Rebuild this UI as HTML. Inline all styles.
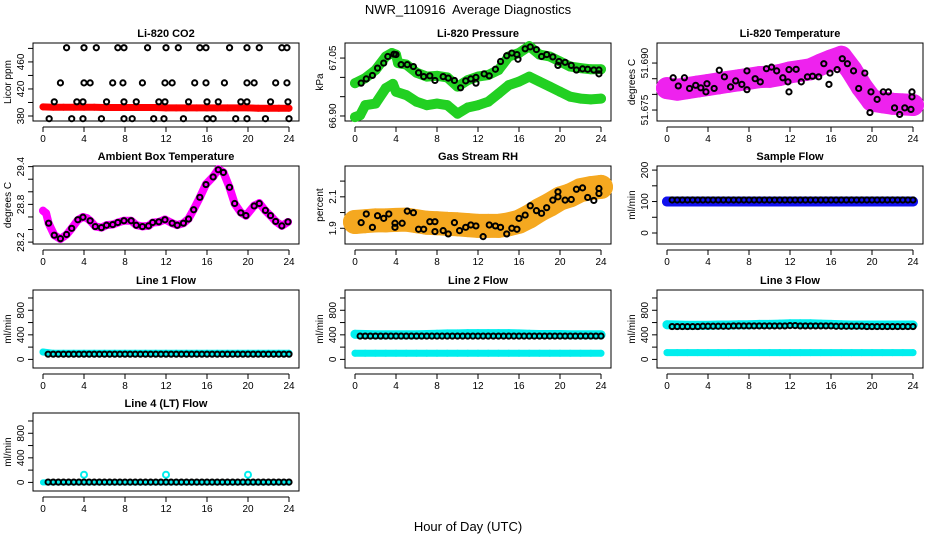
<!DOCTYPE html>
<html><head><meta charset="utf-8"><style>
html,body{margin:0;padding:0;background:#fff;}
svg{display:block;font-family:"Liberation Sans",sans-serif;}
</style></head><body>
<svg id="chart" width="936" height="540" viewBox="0 0 936 540" xmlns="http://www.w3.org/2000/svg">
<text x="468" y="14" text-anchor="middle" font-size="13">NWR_110916&#160; Average Diagnostics</text>
<text x="468" y="531" text-anchor="middle" font-size="13">Hour of Day (UTC)</text>
</svg>
<script>
const xTicks = [0,4,8,12,16,20,24];
// CO2
const co2Hours = [2.3,4.0,5.2,7.3,7.9,10.2,12.0,13.2,15.3,15.9,18.2,19.9,21.1,23.3,23.8, 1.7,4.0,4.6,6.8,7.8,9.7,11.9,12.6,14.8,15.9,17.7,19.9,20.6,22.7,23.8, 1.1,3.3,3.9,6.2,7.9,9.1,11.3,11.9,14.2,16.0,17.1,19.3,19.9,22.2,23.9, 0.6,2.8,3.9,5.7,7.9,8.7,10.8,11.8,13.7,16.0,16.6,18.8,19.9,21.7,24.0];
const co2Values = [481,481,481,481,481,481,481,481,481,481,481,481,481,481,481, 429,429,429,429,429,429,429,429,429,429,429,429,429,429,429, 401,401,401,401,401,401,401,401,401,401,401,401,401,401,401, 376,376,376,376,376,376,376,376,376,376,376,376,376,376,376];
const hourly = [0,1,2,3,4,5,6,7,8,9,10,11,12,13,14,15,16,17,18,19,20,21,22,23,24];
const co2Red = [393.5,393,393,393,393,393,392.5,392.5,392.5,392.5,392.5,392.5,392,392,392,392,392,392,392,392,392,391.5,391.5,391.5,391.5];
// Pressure
const presUpHours = [0,1,2,3,3.6,4,4.2,5,6,7,8,9,10,11,12,13,14,15,16,17,18,19,20,21,22,23,24];
const presUpValues = [66.985,66.998,67.019,67.054,67.063,67.059,67.037,67.033,67.012,67.002,67.004,67.000,66.976,66.993,67.002,67.006,67.019,67.054,67.063,67.081,67.059,67.054,67.041,67.028,67.024,67.021,67.021];
const presLoHours = [0,0.5,1,2,3,3.7,4,5,6,7,8,9,10,11,12,13,14,15,16,17,18,19,20,21,22,23,24];
const presLoValues = [66.897,66.902,66.928,66.932,66.972,66.983,66.963,66.954,66.937,66.928,66.932,66.928,66.906,66.922,66.928,66.937,66.958,66.980,66.989,67.002,66.989,66.976,66.963,66.950,66.945,66.943,66.945];
const presBlackHours = [0.6,1.1,1.7,2.2,2.8,3.2,3.8,4.0,4.5,5.1,5.7,6.2,6.7,7.3,7.8,8.6,9.1,9.7,10.3,10.8,11.3,11.8,11.8,12.6,13.1,13.7,14.2,14.8,15.3,15.8,15.9,16.6,17.1,17.7,18.2,18.7,19.3,19.8,19.9,20.5,21.1,21.6,22.2,22.7,23.3,23.8,23.8];
const presBlackValues = [66.985,66.996,67.005,67.024,67.037,67.054,67.060,67.059,67.033,67.033,67.028,67.012,67.002,67.004,66.992,67.002,66.998,66.992,66.973,66.991,66.996,67.000,66.985,67.009,67.004,67.021,67.041,67.056,67.063,67.059,67.047,67.074,67.079,67.072,67.054,67.059,67.053,67.031,67.041,67.039,67.031,67.019,67.022,67.021,67.019,67.019,67.009];
// Li-820 temperature
const tempMag = [51.682,51.6815,51.682,51.6825,51.683,51.6835,51.684,51.6845,51.685,51.6855,51.6856,51.6862,51.687,51.6875,51.688,51.6895,51.6908,51.692,51.6877,51.6824,51.678,51.6775,51.677,51.6768,51.6766];
const tempBlackHours = [0.6,1.1,1.7,2.2,2.8,3.3,3.8,3.9,4.6,5.1,5.6,6.2,6.7,7.3,7.8,7.8,8.6,9.1,9.7,10.2,10.7,11.3,11.8,11.9,11.9,12.6,13.1,13.7,14.2,14.8,15.3,15.8,15.9,16.6,17.1,17.6,18.2,18.7,19.3,19.8,19.9,20.5,21.1,21.6,22.2,22.7,23.2,23.8,23.9,23.9];
const tempBlackValues = [51.6853,51.6827,51.6853,51.6819,51.6829,51.6821,51.6808,51.6834,51.6819,51.6877,51.6856,51.6824,51.6843,51.6832,51.6815,51.6875,51.6850,51.6840,51.6882,51.6887,51.6875,51.6853,51.6840,51.6808,51.6879,51.6880,51.6840,51.6856,51.6858,51.6856,51.6898,51.6832,51.6868,51.6879,51.6914,51.6898,51.6875,51.6819,51.6868,51.6742,51.6808,51.6784,51.6808,51.6808,51.6757,51.6736,51.6757,51.6752,51.6792,51.6808];
// Ambient box temperature
const ambMagHours = [0,0.3,0.55,1.1,1.7,2.3,2.8,3.4,3.9,4.3,4.6,5.1,5.7,6.2,6.8,7.3,7.9,8.6,9.1,9.7,10.3,10.7,11.3,11.9,12.6,13.1,13.7,14.2,14.7,15.3,15.9,16.6,17.1,17.6,18.2,18.7,19.3,19.8,20.6,21.1,21.7,22.2,22.7,23.3,23.9];
const ambMagValues = [28.70,28.66,28.50,28.31,28.25,28.32,28.42,28.55,28.60,28.58,28.54,28.45,28.43,28.47,28.48,28.51,28.54,28.54,28.47,28.45,28.46,28.51,28.52,28.56,28.50,28.47,28.50,28.57,28.72,28.91,29.12,29.24,29.36,29.31,29.07,28.81,28.67,28.62,28.78,28.82,28.70,28.62,28.53,28.46,28.52];
const ambBlackHours = [0.55,1.1,1.7,2.3,2.8,3.4,3.9,4.6,5.1,5.7,6.2,6.8,7.3,7.9,8.6,9.1,9.7,10.3,10.7,11.3,11.9,12.6,13.1,13.7,14.2,14.7,15.3,15.9,16.6,17.1,17.6,18.2,18.7,19.3,19.8,20.6,21.1,21.7,22.2,22.7,23.3,23.9];
const ambBlackValues = [28.501,28.310,28.255,28.321,28.419,28.556,28.595,28.540,28.447,28.430,28.468,28.479,28.512,28.540,28.540,28.468,28.447,28.458,28.512,28.523,28.556,28.501,28.468,28.501,28.567,28.715,28.912,29.115,29.236,29.351,29.307,29.071,28.814,28.666,28.622,28.775,28.814,28.704,28.622,28.529,28.458,28.523];
// Gas stream RH
const rhCloud = [1.94,1.945,1.95,1.95,1.953,1.955,1.945,1.935,1.932,1.928,1.925,1.92,1.915,1.915,1.915,1.925,1.942,1.975,2.016,2.05,2.089,2.11,2.142,2.155,2.163];
const rhBlackHours = [0.6,1.1,1.7,2.2,2.8,3.3,3.9,3.9,4.6,5.1,5.7,6.2,6.7,7.3,7.8,7.8,8.6,9.1,9.7,10.2,10.8,11.3,11.8,12.5,13.1,13.7,14.2,14.8,15.3,15.8,16.0,16.6,17.1,17.7,18.2,18.7,19.3,19.8,19.8,20.5,21.1,21.6,22.2,22.7,23.3,23.8,23.8];
const rhBlackValues = [1.936,1.991,1.906,1.980,1.963,1.991,1.932,1.906,1.932,2.009,1.999,1.894,1.894,1.942,1.942,1.879,1.885,1.864,1.936,1.885,1.906,1.921,1.915,1.847,1.921,1.915,1.906,1.864,1.900,1.894,1.963,1.984,2.043,2.012,1.995,2.031,2.079,2.132,2.100,2.079,2.083,2.148,2.157,2.096,2.077,2.153,2.121];
// Flows
const flowHours = [0.5,1,1.5,2,2.5,3,3.5,4,4.5,5,5.5,6,6.5,7,7.5,8,8.5,9,9.5,10,10.5,11,11.5,12,12.5,13,13.5,14,14.5,15,15.5,16,16.5,17,17.5,18,18.5,19,19.5,20,20.5,21,21.5,22,22.5,23,23.5,24];
const sampleBlue = [100,100,100,100,100,100,100,100,100,100,100,100,100,100,100,100,100,100,100,100,100,100,100,100,100];
const sampleBlack = [105,105,105,105,105,105,105,105,105,105,105,105,105,105,105,105,105,105,105,105,105,105,105,105,105,105,105,105,105,105,105,105,105,105,105,105,105,105,105,105,105,105,105,105,105,105,105,105];
const line1Cyan = [120,100,100,100,100,100,100,100,100,100,100,100,100,100,100,100,100,100,100,100,100,100,100,100,100];
const line1Black = [85,85,85,85,85,85,85,85,85,85,85,85,85,85,85,85,85,85,85,85,85,85,85,85,85,85,85,85,85,85,85,85,85,85,85,85,85,85,85,85,85,85,85,85,85,85,85,85];
const line2CyanHigh = [410,405,400,400,400,400,400,405,410,415,415,420,420,420,420,420,415,410,405,405,405,400,400,400,400];
const line2CyanLow = [100,100,100,100,100,100,100,100,100,100,100,100,100,100,100,100,100,100,100,100,100,100,100,100,100];
const line2Black = [380,380,380,380,380,380,380,380,380,380,380,380,380,380,380,380,380,380,380,380,380,380,380,380,380,380,380,380,380,380,380,380,380,380,380,380,380,380,380,380,380,380,380,380,380,380,380,380];
const line3CyanHigh = [565,560,555,555,555,560,560,565,565,570,570,575,580,580,580,575,570,565,560,560,560,560,560,560,560];
const line3CyanLow = [110,110,110,110,110,110,110,110,110,110,110,110,110,110,110,110,110,110,110,110,110,110,110,110,110];
const line3Black = [535,535,535,535,535,535,540,540,540,540,540,540,545,545,545,545,545,545,545,545,545,545,545,550,550,545,545,545,545,545,545,545,540,540,540,540,540,540,535,535,535,535,535,535,535,535,535,535];
const line4Cyan = [0,0,0,0,0,0,0,0,0,0,0,0,0,0,0,0,0,0,0,0,0,0,0,0,0];
const line4OutHours = [4,12,20];
const line4OutValues = [125,125,125];
const line4Black = [5,5,5,5,5,5,5,5,5,5,5,5,5,5,5,5,5,5,5,5,5,5,5,5,5,5,5,5,5,5,5,5,5,5,5,5,5,5,5,5,5,5,5,5,5,5,5,5];

const svg = document.getElementById('chart');
const NS = 'http://www.w3.org/2000/svg';
const ROWS = [43,166,290,413];
function mk(tag, attrs, parent){ const e=document.createElementNS(NS,tag); for(const k in attrs) e.setAttribute(k,attrs[k]); (parent||svg).appendChild(e); return e; }

function panel(col,row,name,title,ylab,ymin,ymax,ticks,labels){
  const x0=33+312*col, y0=ROWS[row], w=266, h=78;
  const g=mk('g',{});
  
  
  const sx=v=>x0+10+v*246/24;
  const sy=v=>y0+h-(v-ymin)/(ymax-ymin)*h;
  const t=mk('text',{x:x0+w/2,y:y0-6,'text-anchor':'middle','font-size':'11','font-weight':'bold'},g);
  t.textContent=title;
  
  
  const box=mk('rect',{x:x0,y:y0,width:w,height:h,fill:'none',stroke:'#000','stroke-width':1},g);
  
  
  const xa=mk('g',{},g);
  
  
  mk('line',{x1:sx(0),x2:sx(24),y1:y0+h+6,y2:y0+h+6,stroke:'#000'},xa);
  xTicks.forEach(v=>{
    mk('line',{x1:sx(v),x2:sx(v),y1:y0+h+6,y2:y0+h+11,stroke:'#000'},xa);
    const l=mk('text',{x:sx(v),y:y0+h+21,'text-anchor':'middle','font-size':'10'},xa);
    l.textContent=v;
  });
  const ya=mk('g',{},g);
  
  
  mk('line',{x1:x0,x2:x0,y1:sy(ticks[0]),y2:sy(ticks[ticks.length-1]),stroke:'#000'},ya);
  ticks.forEach(v=>{ mk('line',{x1:x0-5,x2:x0,y1:sy(v),y2:sy(v),stroke:'#000'},ya); });
  labels.forEach(v=>{
    const yy=sy(v), xx=x0-9;
    const l=mk('text',{x:xx,y:yy,'text-anchor':'middle','font-size':'10',transform:`rotate(-90 ${xx} ${yy})`},ya);
    l.textContent=(typeof v==='number' && ylabFmt[name])?ylabFmt[name](v):v;
  });
  const yl=mk('text',{x:x0-22,y:y0+h/2,'text-anchor':'middle','font-size':'10',transform:`rotate(-90 ${x0-22} ${y0+h/2})`},g);
  yl.textContent=ylab;
  
  
  return {g,sx,sy};
}
const ylabFmt = {
  pressure: v=>v.toFixed(2),
  litemp: v=>v.toFixed(3),
  ambient: v=>v.toFixed(1),
  rh: v=>v.toFixed(1)
};
function band(P,xs,ys,color,width,name){
  const d=xs.map((x,i)=>(i?'L':'M')+P.sx(x).toFixed(1)+' '+P.sy(ys[i]).toFixed(1)).join(' ');
  const p=mk('path',{d,fill:'none',stroke:color,'stroke-width':width,'stroke-linejoin':'round','stroke-linecap':'round'},P.g);
  
  
  xs.forEach((x,i)=>{
    const c=mk('circle',{cx:P.sx(x),cy:P.sy(ys[i]),r:width/2,fill:color},P.g);
    
    
  });
}
function pts(P,xs,ys,color,name,r){
  xs.forEach((x,i)=>{
    const c=mk('circle',{cx:P.sx(x),cy:P.sy(ys[i]),r:r||2.6,fill:'none',stroke:color,'stroke-width':2});
    P.g.appendChild(c);
    
    
  });
}
const flowTicks=[0,200,400,600,800,1000], flowLabels=[0,400,800];

let P=panel(0,0,'co2','Li-820 CO2','Licor ppm',372.6,488,[380,400,420,440,460,480],[380,420,460]);
band(P,hourly,co2Red,'#ff0000',7,'co2-red-series');
pts(P,co2Hours,co2Values,'#000','co2-point');

P=panel(1,0,'pressure','Li-820 Pressure','kPa',66.887,67.089,[66.90,66.95,67.00,67.05],[66.90,67.05]);
band(P,presUpHours,presUpValues,'#22d022',10,'pressure-upper-green');
band(P,presLoHours,presLoValues,'#22d022',10,'pressure-lower-green');
pts(P,presBlackHours,presBlackValues,'#000','pressure-point');

P=panel(2,0,'litemp','Li-820 Temperature','degrees C',51.6715,51.6964,[51.675,51.680,51.685,51.690],[51.675,51.690]);
band(P,hourly,tempMag,'#ee22ee',22,'litemp-magenta');
pts(P,tempBlackHours,tempBlackValues,'#000','litemp-point');

P=panel(0,1,'ambient','Ambient Box Temperature','degrees C',28.17,29.41,[28.2,28.4,28.6,28.8,29.0,29.2,29.4],[28.2,28.8,29.4]);
band(P,ambMagHours,ambMagValues,'#ff00ff',8,'ambient-magenta');
pts(P,ambBlackHours,ambBlackValues,'#000','ambient-point');

P=panel(1,1,'rh','Gas Stream RH','percent',1.80,2.296,[1.9,2.0,2.1,2.2],[1.9,2.1]);
band(P,hourly,rhCloud,'#f5a820',24,'rh-cloud');
pts(P,rhBlackHours,rhBlackValues,'#000','rh-point');

P=panel(2,1,'sample','Sample Flow','ml/min',-35,213,[0,50,100,150,200],[0,100,200]);
band(P,hourly,sampleBlue,'#1010ee',10,'sample-blue');
pts(P,flowHours,sampleBlack,'#000','sample-point');

P=panel(0,2,'line1','Line 1 Flow','ml/min',-140,1130,flowTicks,flowLabels);
band(P,hourly,line1Cyan,'#00eeee',7,'line1-cyan');
pts(P,flowHours,line1Black,'#000','line1-point');

P=panel(1,2,'line2','Line 2 Flow','ml/min',-140,1130,flowTicks,flowLabels);
band(P,hourly,line2CyanHigh,'#00eeee',9,'line2-cyan-high');
band(P,hourly,line2CyanLow,'#00eeee',7,'line2-cyan-low');
pts(P,flowHours,line2Black,'#000','line2-point');

P=panel(2,2,'line3','Line 3 Flow','ml/min',-140,1130,flowTicks,flowLabels);
band(P,hourly,line3CyanHigh,'#00eeee',9,'line3-cyan-high');
band(P,hourly,line3CyanLow,'#00eeee',7,'line3-cyan-low');
pts(P,flowHours,line3Black,'#000','line3-point');

P=panel(0,3,'line4','Line 4 (LT) Flow','ml/min',-140,1130,flowTicks,flowLabels);
band(P,hourly,line4Cyan,'#00eeee',6,'line4-cyan');
pts(P,line4OutHours,line4OutValues,'#00eeee','line4-cyan-outlier',3);
pts(P,flowHours,line4Black,'#000','line4-point');
</script>
</body></html>
